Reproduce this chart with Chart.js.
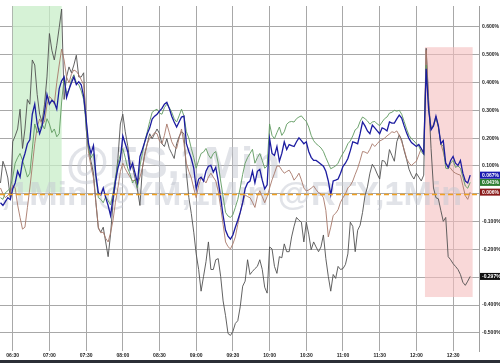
<!DOCTYPE html>
<html>
<head>
<meta charset="utf-8">
<script src="https://cdn.jsdelivr.net/npm/chart.js@4.4.0/dist/chart.umd.min.js"></script>
<style>
  html, body { margin: 0; padding: 0; background: #fff; }
  #wrap { width: 500px; height: 363px; position: relative; overflow: hidden; }
  #bar { position: absolute; left: 0; top: 360px; width: 500px; height: 3px; background: #2b2f36; }
</style>
</head>
<body>
<div id="wrap">
  <canvas id="myChart" width="500" height="360"></canvas>
  <div id="bar"></div>
</div>
<script>
// --- Data (percent change, sampled every 2 minutes from 06:20) ---
const START_MIN = 380;
const STEP_MIN = 2;

const blue = [
  -0.032, -0.042, -0.028, -0.014, -0.021, 0.018, 0.039, 0.081, 0.060, 0.117,
  0.145, 0.180, 0.194, 0.286, 0.322, 0.251, 0.216, 0.244, 0.293, 0.357,
  0.322, 0.336, 0.329, 0.304, 0.378, 0.406, 0.420, 0.346, 0.375, 0.399,
  0.420, 0.392, 0.403, 0.392, 0.350, 0.269, 0.180, 0.145, 0.173, 0.067,
  0.004, -0.004, 0.021, -0.014, -0.042, -0.078, -0.014, 0.046, 0.092, 0.124,
  0.208, 0.180, 0.152, 0.088, 0.110, 0.074, 0.039, 0.134, 0.159, 0.187,
  0.216, 0.237, 0.269, 0.279, 0.286, 0.297, 0.307, 0.322, 0.329, 0.307,
  0.279, 0.258, 0.240, 0.258, 0.276, 0.279, 0.180, 0.152, 0.127, 0.092,
  0.018, 0.053, 0.060, 0.046, 0.081, 0.099, 0.102, 0.078, 0.095, 0.046,
  -0.014, -0.078, -0.131, -0.152, -0.163, -0.148, -0.120, -0.095, -0.067, -0.032,
  0.018, 0.039, 0.046, 0.081, 0.039, 0.081, 0.088, 0.049, 0.018, 0.032,
  0.198, 0.145, 0.138, 0.170, 0.117, 0.145, 0.187, 0.159, 0.177, 0.173,
  0.170, 0.187, 0.201, 0.191, 0.180, 0.187, 0.152, 0.131, 0.120, 0.120,
  0.113, 0.106, 0.099, 0.081, 0.046, -0.004, 0.046, 0.049, 0.053, 0.074,
  0.099, 0.110, 0.127, 0.155, 0.187, 0.184, 0.180, 0.216, 0.258, 0.244,
  0.226, 0.216, 0.247, 0.237, 0.226, 0.216, 0.237, 0.233, 0.226, 0.258,
  0.254, 0.254, 0.269, 0.283, 0.272, 0.244, 0.219, 0.198, 0.184, 0.177,
  0.170, 0.177, 0.163, 0.145, 0.449, 0.304, 0.230, 0.244, 0.279, 0.244,
  0.180, 0.191, 0.110, 0.095, 0.120, 0.134, 0.110, 0.102, 0.120, 0.074,
  0.046, 0.039, 0.067
];
const green = [
  -0.014, -0.020, 0.004, 0.011, 0.021, 0.060, 0.110, 0.130, 0.145, 0.120,
  0.092, 0.060, 0.074, 0.160, 0.251, 0.220, 0.233, 0.250, 0.233, 0.270,
  0.251, 0.220, 0.233, 0.205, 0.216, 0.330, 0.420, 0.360, 0.375, 0.410,
  0.428, 0.400, 0.392, 0.370, 0.339, 0.250, 0.163, 0.130, 0.145, 0.060,
  -0.014, -0.020, -0.032, -0.010, -0.025, -0.040, 0.004, 0.060, 0.110, 0.140,
  0.163, 0.130, 0.092, 0.070, 0.039, 0.050, 0.021, 0.100, 0.145, 0.190,
  0.223, 0.260, 0.293, 0.300, 0.304, 0.290, 0.286, 0.310, 0.322, 0.310,
  0.293, 0.270, 0.258, 0.280, 0.304, 0.280, 0.223, 0.200, 0.163, 0.130,
  0.092, 0.120, 0.145, 0.150, 0.163, 0.140, 0.127, 0.145, 0.152, 0.110,
  0.046, -0.010, -0.067, -0.080, -0.085, -0.075, -0.049, -0.020, 0.021, 0.070,
  0.110, 0.130, 0.145, 0.160, 0.110, 0.130, 0.145, 0.120, 0.092, 0.100,
  0.251, 0.210, 0.198, 0.220, 0.240, 0.210, 0.223, 0.250, 0.258, 0.260,
  0.258, 0.270, 0.276, 0.280, 0.269, 0.260, 0.240, 0.210, 0.191, 0.180,
  0.173, 0.165, 0.152, 0.130, 0.110, 0.090, 0.095, 0.100, 0.110, 0.130,
  0.145, 0.160, 0.180, 0.190, 0.208, 0.230, 0.237, 0.260, 0.276, 0.270,
  0.262, 0.250, 0.258, 0.260, 0.251, 0.245, 0.258, 0.270, 0.276, 0.290,
  0.293, 0.300, 0.297, 0.300, 0.286, 0.260, 0.233, 0.210, 0.198, 0.190,
  0.180, 0.170, 0.152, 0.140, 0.463, 0.310, 0.233, 0.245, 0.272, 0.240,
  0.180, 0.170, 0.092, 0.090, 0.110, 0.120, 0.095, 0.100, 0.092, 0.060,
  0.028, 0.020, 0.041
];
const brown = [
  0.021, 0.000, -0.014, -0.005, 0.004, 0.030, 0.021, -0.040, -0.085, -0.127,
  -0.120, -0.050, 0.021, 0.100, 0.180, 0.240, 0.269, 0.250, 0.258, 0.320,
  0.350, 0.340, 0.322, 0.400, 0.463, 0.520, 0.481, 0.420, 0.399, 0.430,
  0.445, 0.440, 0.428, 0.410, 0.392, 0.270, 0.145, 0.100, 0.057, -0.030,
  -0.120, -0.140, -0.138, -0.160, -0.173, -0.140, -0.095, -0.030, 0.021, 0.080,
  0.110, 0.090, 0.074, 0.060, 0.046, 0.050, 0.032, 0.060, 0.092, 0.140,
  0.180, 0.200, 0.208, 0.220, 0.216, 0.190, 0.180, 0.210, 0.251, 0.220,
  0.187, 0.170, 0.163, 0.200, 0.233, 0.180, 0.110, 0.080, 0.057, 0.020,
  -0.014, 0.030, 0.057, 0.050, 0.039, 0.060, 0.074, 0.060, 0.046, 0.010,
  -0.049, -0.110, -0.173, -0.190, -0.198, -0.180, -0.155, -0.110, -0.067, -0.030,
  -0.004, -0.010, -0.014, -0.030, -0.049, -0.010, 0.011, -0.010, -0.032, -0.010,
  0.021, 0.050, 0.074, 0.100, 0.099, 0.085, 0.074, 0.080, 0.085, 0.070,
  0.049, 0.060, 0.074, 0.050, 0.021, 0.010, 0.014, 0.020, 0.028, 0.015,
  0.004, 0.000, -0.014, -0.060, -0.155, -0.120, -0.078, -0.070, -0.057, -0.030,
  -0.014, 0.000, 0.021, 0.030, 0.046, 0.070, 0.092, 0.120, 0.152, 0.150,
  0.145, 0.160, 0.180, 0.170, 0.180, 0.190, 0.194, 0.200, 0.208, 0.215,
  0.223, 0.220, 0.226, 0.210, 0.187, 0.160, 0.127, 0.110, 0.102, 0.110,
  0.117, 0.140, 0.163, 0.150, 0.516, 0.330, 0.233, 0.250, 0.279, 0.240,
  0.180, 0.150, 0.110, 0.100, 0.092, 0.080, 0.074, 0.070, 0.067, 0.030,
  -0.007, -0.020, 0.006
];
const gray = [
  0.039, 0.117, 0.092, 0.057, -0.014, 0.187, 0.208, 0.233, 0.304, 0.163,
  0.233, 0.339, 0.322, 0.481, 0.463, 0.357, 0.286, 0.258, 0.322, 0.420,
  0.576, 0.516, 0.481, 0.534, 0.597, 0.664, 0.339, 0.420, 0.456, 0.435,
  0.463, 0.498, 0.420, 0.420, 0.435, 0.233, 0.163, 0.117, 0.074, -0.032,
  -0.124, -0.138, -0.120, -0.173, -0.226, -0.145, -0.032, 0.039, 0.127, 0.251,
  0.286, 0.223, 0.173, 0.110, 0.095, 0.057, 0.014, -0.042, 0.092, 0.145,
  0.180, 0.216, 0.198, 0.216, 0.233, 0.216, 0.180, 0.170, 0.198, 0.163,
  0.145, 0.127, 0.180, 0.205, 0.223, 0.216, 0.074, -0.014, -0.071, -0.138,
  -0.216, -0.272, -0.350, -0.297, -0.244, -0.173, -0.272, -0.272, -0.237, -0.233,
  -0.297, -0.385, -0.438, -0.502, -0.509, -0.495, -0.466, -0.456, -0.406, -0.332,
  -0.314, -0.237, -0.290, -0.279, -0.269, -0.261, -0.237, -0.272, -0.336, -0.357,
  -0.191, -0.198, -0.261, -0.286, -0.226, -0.230, -0.180, -0.208, -0.208, -0.155,
  -0.117, -0.085, -0.095, -0.102, -0.173, -0.102, -0.145, -0.201, -0.173, -0.191,
  -0.208, -0.191, -0.148, -0.233, -0.297, -0.350, -0.290, -0.304, -0.261, -0.272,
  -0.269, -0.254, -0.216, -0.102, -0.117, -0.208, -0.131, -0.113, -0.067, -0.007,
  0.025, 0.074, 0.106, 0.092, 0.071, 0.053, 0.120, 0.117, 0.099, 0.159,
  0.138, 0.117, 0.187, 0.212, 0.194, 0.155, 0.124, 0.088, 0.067, 0.053,
  0.074, 0.060, 0.046, 0.067, 0.523, 0.339, 0.163, 0.021, -0.014, -0.018,
  -0.060, -0.099, -0.085, -0.226, -0.237, -0.251, -0.261, -0.272, -0.290, -0.318,
  -0.329, -0.314, -0.297
];

const xTicks = [390, 420, 450, 480, 510, 540, 570, 600, 630, 660, 690, 720, 750];
const yTicks = [-0.5, -0.4, -0.3, -0.2, -0.1, 0, 0.1, 0.2, 0.3, 0.4, 0.5, 0.6];

// shaded windows: [fromMin, toMin, topPct, bottomPct]
const greenWindow = [390, 430, 0.7, 0.005];
const redWindow = [727, 766, 0.527, -0.371];

const times = blue.map((_, i) => START_MIN + i * STEP_MIN);
const toPoints = arr => arr.map((v, i) => ({ x: times[i], y: v }));

const fmtTime = m => String(Math.floor(m / 60)).padStart(2, '0') + ':' + String(m % 60).padStart(2, '0');

// --- Plugins ---
const backdrop = {
  id: 'backdrop',
  beforeDatasetsDraw(chart) {
    const { ctx, chartArea: a, scales: { x, y } } = chart;
    ctx.save();
    ctx.beginPath();
    ctx.rect(a.left, a.top, a.right - a.left, a.bottom - a.top);
    ctx.clip();
    const box = (w, color) => {
      const x0 = x.getPixelForValue(w[0]), x1 = x.getPixelForValue(w[1]);
      const y0 = y.getPixelForValue(w[2]), y1 = y.getPixelForValue(w[3]);
      ctx.fillStyle = color;
      ctx.fillRect(x0, y0, x1 - x0, y1 - y0);
    };
    box(greenWindow, 'rgba(200,238,200,0.75)');
    box(redWindow, 'rgba(245,190,190,0.6)');
    // faint watermark
    ctx.fillStyle = 'rgba(195,200,210,0.5)';
    ctx.font = 'bold 44px "Liberation Sans", Arial';
    ctx.textBaseline = 'alphabetic';
    ctx.textAlign = 'left';
    ctx.fillText('@ES,1Min', 66, 178);
    ctx.font = 'bold 34px "Liberation Sans", Arial';
    ctx.textAlign = 'right';
    ctx.fillText('@NQ,1Min @YM,1Min @RTY,1Min', 462, 205);
    ctx.restore();
  }
};

const zeroLine = {
  id: 'zeroLine',
  afterDatasetsDraw(chart) {
    const { ctx, chartArea: a, scales: { y } } = chart;
    const py = Math.round(y.getPixelForValue(0)) + 0.5;
    ctx.save();
    ctx.strokeStyle = '#f0a020';
    ctx.lineWidth = 1.5;
    ctx.setLineDash([5, 3]);
    ctx.beginPath();
    ctx.moveTo(a.left, py);
    ctx.lineTo(a.right, py);
    ctx.stroke();
    ctx.restore();
  }
};

const lastValueTags = {
  id: 'lastValueTags',
  afterDraw(chart) {
    const { ctx, chartArea: a, scales: { y } } = chart;
    ctx.save();
    ctx.font = 'bold 5px "Liberation Sans", Arial';
    ctx.textBaseline = 'middle';
    ctx.textAlign = 'left';
    chart.data.datasets.slice().reverse().forEach(ds => {
      const v = ds.data[ds.data.length - 1].y;
      const py = y.getPixelForValue(v);
      ctx.fillStyle = ds.tagColor;
      ctx.fillRect(a.right + 1, py - 3.5, 20, 7);
      ctx.fillStyle = '#fff';
      ctx.fillText(v.toFixed(3) + '%', a.right + 3, py + 0.5);
    });
    ctx.restore();
  }
};

// --- Chart ---
const ctx = document.getElementById('myChart');

const myChart = new Chart(ctx, {
  type: 'line',
  data: {
    datasets: [
      { data: toPoints(blue), borderColor: '#1c1ca0', borderWidth: 1.3, tagColor: '#1a1ab0' },
      { data: toPoints(green), borderColor: '#5f9a5f', borderWidth: 0.9, tagColor: '#2e7d32' },
      { data: toPoints(brown), borderColor: '#a8786a', borderWidth: 0.9, tagColor: '#8b1a1a' },
      { data: toPoints(gray), borderColor: '#505050', borderWidth: 0.9, tagColor: '#111111' }
    ]
  },
  options: {
    responsive: false,
    animation: false,
    events: [],
    elements: { point: { radius: 0 }, line: { tension: 0 } },
    layout: { padding: 0 },
    plugins: { legend: { display: false }, tooltip: { enabled: false } },
    scales: {
      x: {
        type: 'linear',
        min: 379.6,
        max: 771.2,
        afterBuildTicks: axis => { axis.ticks = xTicks.map(v => ({ value: v })); },
        afterFit: axis => { axis.height = 9; },
        grid: { color: '#a8a8a8', lineWidth: 1, drawTicks: false },
        border: { display: false },
        ticks: {
          padding: 2,
          maxRotation: 0,
          color: '#222',
          font: { size: 5, weight: 'bold', family: '"Liberation Sans", Arial' },
          callback: v => fmtTime(v)
        }
      },
      y: {
        position: 'right',
        min: -0.565,
        max: 0.675,
        afterBuildTicks: axis => { axis.ticks = yTicks.map(v => ({ value: v })); },
        afterFit: axis => { axis.width = 21; },
        grid: { color: '#a8a8a8', lineWidth: 1, drawTicks: false },
        border: { display: true, color: '#a0a0a0' },
        ticks: {
          padding: 3,
          color: '#222',
          font: { size: 5, weight: 'bold', family: '"Liberation Sans", Arial' },
          callback: v => v.toFixed(3) + '%'
        }
      }
    }
  },
  plugins: [backdrop, zeroLine, lastValueTags]
});
</script>
</body>
</html>
